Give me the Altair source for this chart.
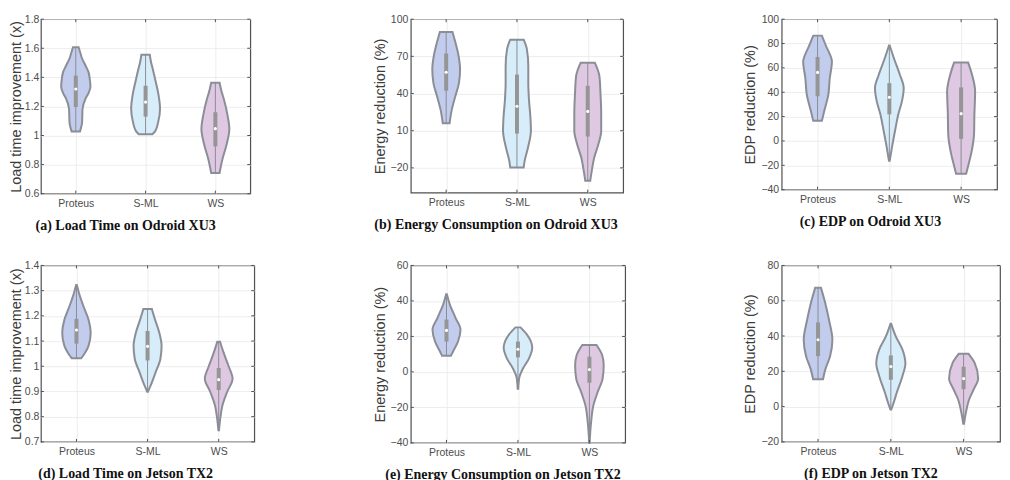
import altair as alt
import pandas as pd

CATS = ["Proteus", "S-ML", "WS"]
CAT_POS = [1, 2, 3]
FILLS = ["#c2cdee", "#d7edfa", "#dfc8e2"]
EDGE = "#8b8e96"

# ---------- (a) Load time, Odroid XU3 ----------
A_Y = [[1.607, 1.56, 1.533, 1.48, 1.439, 1.39, 1.335, 1.29, 1.253, 1.184, 1.09, 1.028],
       [1.556, 1.5, 1.463, 1.37, 1.277, 1.184, 1.091, 1.032, 1.009],
       [1.363, 1.3, 1.253, 1.137, 1.044, 0.928, 0.835, 0.78, 0.742]]
A_W = [[0.04, 0.07, 0.087, 0.14, 0.18, 0.2, 0.21, 0.18, 0.14, 0.097, 0.09, 0.06],
       [0.06, 0.08, 0.1, 0.145, 0.186, 0.207, 0.18, 0.14, 0.1],
       [0.06, 0.09, 0.12, 0.175, 0.2, 0.155, 0.1, 0.075, 0.06]]
A_MIN = [1.028, 1.009, 0.742]
A_Q1 = [1.196, 1.13, 0.925]
A_MED = [1.32, 1.23, 1.047]
A_Q3 = [1.412, 1.342, 1.16]
A_MAX = [1.607, 1.556, 1.363]
A_TICKS = [0.6, 0.8, 1.0, 1.2, 1.4, 1.6, 1.8]

# ---------- (b) Energy, Odroid XU3 ----------
B_Y = [[89.6, 81.3, 70.3, 59.4, 48.4, 37.4, 26.4, 16],
       [83.5, 75.8, 62.1, 48.4, 34.7, 20.9, 10, -3.8, -14.7, -19.7],
       [64.9, 53.9, 40.1, 23.7, 10, -1, -12, -23, -30.4]]
B_W = [[0.09, 0.13, 0.175, 0.196, 0.18, 0.127, 0.077, 0.048],
       [0.095, 0.14, 0.16, 0.16, 0.17, 0.19, 0.197, 0.155, 0.107, 0.095],
       [0.1, 0.165, 0.18, 0.19, 0.19, 0.15, 0.09, 0.055, 0.035]]
B_MIN = [16, -19.7, -30.4]
B_Q1 = [42.3, 7.7, 5.3]
B_MED = [57.2, 29.7, 25.6]
B_Q3 = [72.3, 55.3, 46.2]
B_MAX = [89.6, 83.5, 64.9]
B_TICKS = [-20, 10, 40, 70, 100]

# ---------- (c) EDP, Odroid XU3 ----------
C_Y = [[86.5, 78.4, 65, 51.5, 38.1, 24.6, 16.5],
       [78.4, 67.7, 54.2, 43.5, 32.7, 21.9, 8.5, -5, -16.3],
       [64.5, 54.2, 40.8, 21.9, 5.8, -10.4, -21.1, -27]]
C_W = [[0.06, 0.115, 0.2, 0.17, 0.15, 0.093, 0.06],
       [0.005, 0.065, 0.148, 0.2, 0.176, 0.125, 0.08, 0.037, 0.005],
       [0.097, 0.153, 0.195, 0.185, 0.18, 0.14, 0.095, 0.07]]
C_MIN = [16.5, -16.3, -27]
C_Q1 = [36.7, 21.9, 1.75]
C_MED = [56.3, 35.9, 22.4]
C_Q3 = [69, 47.5, 44]
C_MAX = [86.5, 78.4, 64.5]
C_TICKS = [-40, -20, 0, 20, 40, 60, 80, 100]

# ---------- (d) Load time, Jetson TX2 ----------
D_Y = [[1.322, 1.29, 1.237, 1.185, 1.133, 1.081, 1.049, 1.032],
       [1.227, 1.185, 1.133, 1.081, 1.029, 0.977, 0.925, 0.899],
       [1.097, 1.055, 1.003, 0.951, 0.899, 0.847, 0.795, 0.746]]
D_W = [[0.005, 0.036, 0.1, 0.17, 0.2, 0.17, 0.11, 0.068],
       [0.06, 0.105, 0.165, 0.197, 0.18, 0.114, 0.045, 0.005],
       [0.02, 0.068, 0.136, 0.195, 0.12, 0.055, 0.023, 0.004]]
D_MIN = [1.032, 0.899, 0.746]
D_Q1 = [1.09, 1.023, 0.906]
D_MED = [1.144, 1.079, 0.947]
D_Q3 = [1.188, 1.14, 0.993]
D_MAX = [1.322, 1.227, 1.097]
D_TICKS = [0.7, 0.8, 0.9, 1.0, 1.1, 1.2, 1.3, 1.4]

# ---------- (e) Energy, Jetson TX2 ----------
E_Y = [[43.8, 38.1, 30.5, 23.8, 17.1, 11.4, 9.1],
       [25.1, 21, 13.7, 7.6, 1.9, -2.9, -9.5],
       [15.2, 9.5, 3.8, -3.8, -11.4, -19, -28.6, -40]]
E_W = [[0.005, 0.046, 0.126, 0.196, 0.16, 0.09, 0.062],
       [0.035, 0.126, 0.2, 0.155, 0.07, 0.02, 0.004],
       [0.1, 0.178, 0.2, 0.185, 0.115, 0.055, 0.023, 0.003]]
E_MIN = [9.1, -9.5, -40]
E_Q1 = [17.1, 8.2, -6.1]
E_MED = [23.4, 12.8, 1.3]
E_Q3 = [29.5, 17.1, 8.6]
E_MAX = [43.8, 25.1, 15.2]
E_TICKS = [-40, -20, 0, 20, 40, 60]

# ---------- (f) EDP, Jetson TX2 ----------
F_Y = [[67.3, 58.5, 49.2, 37.9, 28.6, 21.1, 15.5],
       [46.9, 39.8, 32.3, 24.5, 17.4, 8, 2.4, -1.7],
       [29.9, 24.9, 15.9, 9.9, 4.3, -3.2, -9.7]]
F_W = [[0.04, 0.1, 0.15, 0.197, 0.165, 0.1, 0.068],
       [0.005, 0.068, 0.16, 0.2, 0.16, 0.082, 0.04, 0.005],
       [0.068, 0.15, 0.2, 0.14, 0.078, 0.032, 0.005]]
F_MIN = [15.5, -1.7, -9.7]
F_Q1 = [28.6, 15.2, 9.9]
F_MED = [37.9, 22.7, 15.9]
F_Q3 = [47.7, 29, 22.6]
F_MAX = [67.3, 46.9, 29.9]
F_TICKS = [-20, 0, 20, 40, 60, 80]

LABEL_EXPR = "datum.value == 1 ? 'Proteus' : (datum.value == 2 ? 'S-ML' : 'WS')"


def panel(py, pw, mins, q1, med, q3, maxs, ydom, yticks, yfmt, ytitle,
          caption, sw, W, H, dx, lpad=3, tpad=3):
    rows = []
    for i, cat in enumerate(CATS):
        for v, w in zip(py[i], pw[i]):
            rows.append({"cat": cat, "pos": CAT_POS[i], "val": v, "hw": w})
    prof = pd.DataFrame(rows)
    stats = pd.DataFrame({"cat": CATS, "pos": CAT_POS, "mn": mins, "q1": q1,
                          "med": med, "q3": q3, "mx": maxs})
    xsc = alt.Scale(domain=[0.5, 3.5], nice=False, zero=False)
    ysc = alt.Scale(domain=ydom, nice=False, zero=False)
    xax = alt.Axis(values=CAT_POS, labelExpr=LABEL_EXPR, title=None, grid=True,
                   ticks=False, domain=False, labelPadding=5)
    yax = alt.Axis(values=yticks, format=yfmt, title=ytitle, grid=True,
                   ticks=False, domain=False, labelPadding=lpad, titlePadding=tpad)

    violin = alt.Chart(prof).transform_calculate(
        lo="datum.pos - datum.hw", hi="datum.pos + datum.hw"
    ).mark_area(orient="horizontal", interpolate="monotone", stroke=EDGE,
                fillOpacity=1).encode(
        x=alt.X("lo:Q", scale=xsc, axis=xax),
        x2="hi:Q",
        y=alt.Y("val:Q", scale=ysc, axis=yax),
        fill=alt.Fill("cat:N", scale=alt.Scale(domain=CATS, range=FILLS), legend=None),
        strokeWidth=alt.StrokeWidth("cat:N", scale=alt.Scale(domain=CATS, range=sw), legend=None),
    )
    whisk = alt.Chart(stats).mark_rule(color="#8a8d94", strokeWidth=1).encode(
        x=alt.X("pos:Q", scale=xsc, axis=xax),
        y=alt.Y("mn:Q", scale=ysc, axis=yax), y2="mx:Q")
    box = alt.Chart(stats).mark_rule(color="#959595", strokeWidth=4).encode(
        x=alt.X("pos:Q", scale=xsc, axis=xax),
        y=alt.Y("q1:Q", scale=ysc, axis=yax), y2="q3:Q")
    medp = alt.Chart(stats).mark_point(filled=True, color="white", size=10,
                                       opacity=1).encode(
        x=alt.X("pos:Q", scale=xsc, axis=xax),
        y=alt.Y("med:Q", scale=ysc, axis=yax))
    yt = pd.DataFrame({"t": yticks})
    xt = pd.DataFrame({"t": CAT_POS})
    tc = "#505050"
    ytl = alt.Chart(yt).mark_rule(color=tc, strokeWidth=1).encode(
        y=alt.Y("t:Q", scale=ysc, axis=yax), x=alt.value(0), x2=alt.value(3))
    ytr = alt.Chart(yt).mark_rule(color=tc, strokeWidth=1).encode(
        y=alt.Y("t:Q", scale=ysc, axis=yax), x=alt.value(W - 3), x2=alt.value(W))
    xtb = alt.Chart(xt).mark_rule(color=tc, strokeWidth=1).encode(
        x=alt.X("t:Q", scale=xsc, axis=xax), y=alt.value(H - 3), y2=alt.value(H))
    xtt = alt.Chart(xt).mark_rule(color=tc, strokeWidth=1).encode(
        x=alt.X("t:Q", scale=xsc, axis=xax), y=alt.value(0), y2=alt.value(3))
    return alt.layer(violin, whisk, box, medp, ytl, ytr, xtb, xtt).properties(
        width=W, height=H,
        title=alt.TitleParams(caption, orient="bottom", anchor="middle", dx=dx,
                              offset=10, font="Liberation Serif", fontSize=14,
                              fontWeight="bold", color="#111111"))


pa = panel(A_Y, A_W, A_MIN, A_Q1, A_MED, A_Q3, A_MAX, [0.6, 1.8], A_TICKS, ".1~f",
           "Load time improvement (x)", "(a) Load Time on Odroid XU3",
           [2, 2, 2], 210, 175, -20, lpad=2, tpad=1)
pb = panel(B_Y, B_W, B_MIN, B_Q1, B_MED, B_Q3, B_MAX, [-40, 100], B_TICKS, "d",
           "Energy reduction (%)", "(b) Energy Consumption on Odroid XU3",
           [1, 1, 1], 213, 174, -21)
pc = panel(C_Y, C_W, C_MIN, C_Q1, C_MED, C_Q3, C_MAX, [-40, 100], C_TICKS, "d",
           "EDP reduction (%)", "(c) EDP on Odroid XU3",
           [2, 1, 1.5], 216, 171, -19)
pd_ = panel(D_Y, D_W, D_MIN, D_Q1, D_MED, D_Q3, D_MAX, [0.7, 1.4], D_TICKS, ".1~f",
            "Load time improvement (x)", "(d) Load Time on Jetson TX2",
            [1, 1, 1], 214, 177, -22, lpad=2, tpad=1)
pe = panel(E_Y, E_W, E_MIN, E_Q1, E_MED, E_Q3, E_MAX, [-40, 60], E_TICKS, "d",
           "Energy reduction (%)", "(e) Energy Consumption on Jetson TX2",
           [1, 1, 1], 215, 178, -15)
pf = panel(F_Y, F_W, F_MIN, F_Q1, F_MED, F_Q3, F_MAX, [-20, 80], F_TICKS, "d",
           "EDP reduction (%)", "(f) EDP on Jetson TX2",
           [1, 1, 1], 219, 177, -20)

chart = alt.concat(
    pa, pb, pc, pd_, pe, pf, columns=3, bounds="flush", align="each",
    spacing=alt.RowColnumber(row=72, column=157)
).properties(
    padding={"left": -1, "top": 4.5, "right": 0, "bottom": 0}
).configure_view(
    stroke="#505050", strokeWidth=1.2
).configure_axis(
    labelFont="Liberation Sans", labelFontSize=10.5, labelColor="#4d4d4d",
    titleFont="Liberation Sans", titleFontSize=14.5, titleColor="#3c3c3c",
    titleFontWeight="normal", gridColor="#e8e8e8", gridWidth=0.8
)

chart.save("out.html", embed_options={"renderer": "svg", "actions": False})
